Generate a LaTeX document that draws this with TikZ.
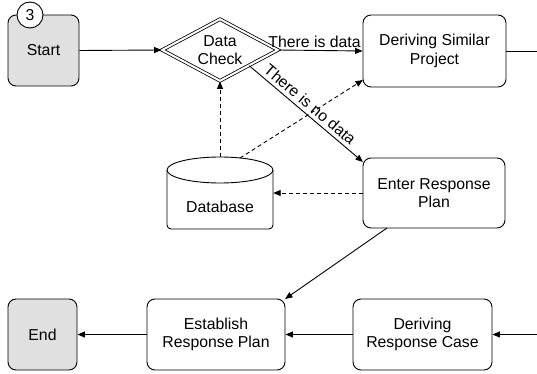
\documentclass[tikz,border=0pt]{standalone}
\usepackage{fontspec}
\setmainfont{Liberation Sans}
\usetikzlibrary{arrows.meta,shapes.geometric}
\definecolor{boxgray}{RGB}{224,224,224}
\begin{document}
\begin{tikzpicture}[x=1pt,y=-1pt,
  font=\fontsize{15.8}{18.5}\selectfont,
  every node/.style={inner sep=0pt, align=center},
  box/.style={draw, line width=0.9pt, rounded corners=8pt, fill=white},
  graybox/.style={box, fill=boxgray},
  arr/.style={line width=0.9pt, -{Triangle[length=7.5pt,width=6pt]}},
  darr/.style={arr, dash pattern=on 4pt off 3pt},
  lbl/.style={inner sep=2pt}
]
\useasboundingbox (0,0) rectangle (537,374);

% nodes
\node[graybox, minimum width=71pt, minimum height=71pt] (start) at (43.5,50.5) {Start};
\node[draw, circle, line width=0.9pt, fill=white, minimum size=26pt] (num) at (30,15) {3};
\node[diamond, draw, line width=0.8pt, double, double distance=2pt, fill=white,
      minimum width=116pt, minimum height=62pt, shape aspect=1.87] (dc) at (220,50) {Data\\Check};
\node[box, minimum width=143pt, minimum height=72pt] (dsp) at (434.5,51) {Deriving Similar\\Project};
\node[box, minimum width=142pt, minimum height=70pt] (erp) at (434,193) {Enter Response\\Plan};
\node[graybox, minimum width=69pt, minimum height=71pt] (end) at (42.5,334.5) {End};
\node[box, minimum width=138pt, minimum height=71pt] (est) at (216,334.5) {Establish\\Response Plan};
\node[box, minimum width=139pt, minimum height=71pt] (drc) at (422.5,334.5) {Deriving\\Response Case};

% database cylinder
\node[minimum width=106pt, minimum height=72pt] (db) at (220,193) {};
\draw[line width=0.9pt, fill=white, rounded corners=4pt] (167,170) -- (167,229) -- (273,229) -- (273,170);
\draw[line width=0.9pt, fill=white] (220,170) ellipse [x radius=53pt, y radius=13pt];
\node (dbtext) at (220,207) {Database};

% helper coordinates
\coordinate (erpin) at (363,162);
\coordinate (dbtop) at (240,158);
\coordinate (dspin) at (363,80);
\coordinate (erpout) at (387,228);
\coordinate (estin) at (285,299);
\coordinate (rightA) at (537,51);
\coordinate (rightB) at (537,334.5);

% connectors
\draw[arr] (start.east) -- (dc.west);
\draw[arr] (dc.east) -- node[lbl, above, xshift=-6pt] {There is data} (dsp.west);
\draw[arr] (dc.south east) -- node[sloped, above, inner sep=3.5pt, pos=0.48] {There is no data} (erpin);
\draw[darr] (erp.west) -- (db.east);
\draw[darr] (db.north) -- (dc.south);
\draw[darr] (dbtop) -- (dspin);
\draw[arr] (erpout) -- (estin);
\draw[line width=0.9pt] (dsp.east) -- (rightA);
\draw[arr] (rightB) -- (drc.east);
\draw[arr] (drc.west) -- (est.east);
\draw[arr] (est.west) -- (end.east);
\end{tikzpicture}
\end{document}
